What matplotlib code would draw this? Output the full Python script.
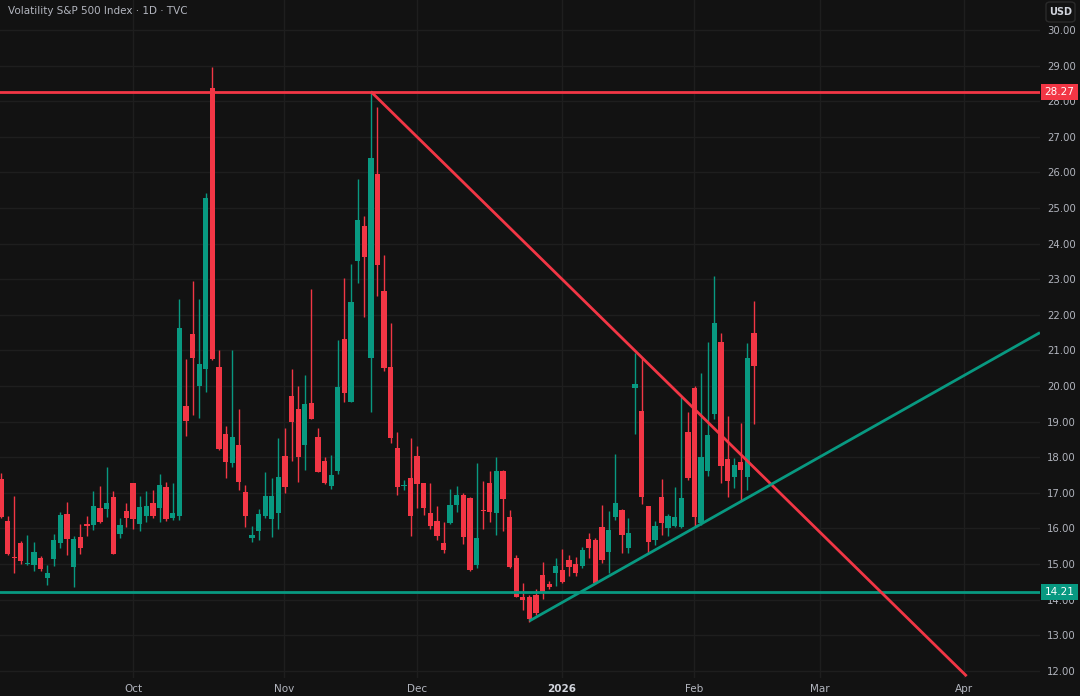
import matplotlib
matplotlib.use("Agg")
import matplotlib.pyplot as plt
from matplotlib.patches import FancyBboxPatch, Rectangle
import numpy as np

# daily candles, VIX
opens = [17.40, 16.22, 15.22, 15.58, 15.02, 14.97, 15.18, 14.62, 15.13, 15.60,
         16.40, 14.91, 15.75, 16.13, 16.10, 16.56, 16.54, 16.88, 15.83, 16.49,
         17.28, 16.12, 16.36, 16.72, 16.58, 17.17, 16.30, 16.36, 19.44, 21.45,
         20.01, 20.48, 28.38, 20.53, 18.65, 17.83, 18.34, 17.01, 15.72, 15.94,
         16.35, 16.26, 16.42, 18.04, 19.72, 19.35, 18.34, 19.51, 18.56, 17.89,
         17.20, 17.61, 21.32, 19.56, 23.51, 24.50, 20.78, 25.95, 22.68, 20.54,
         18.25, 17.20, 17.41, 18.04, 17.28, 16.42, 16.22, 15.58, 16.14, 16.66,
         16.94, 16.84, 14.97, 16.54, 17.28, 16.44, 17.61, 16.31, 15.16, 14.08,
         14.08, 14.13, 14.69, 14.43, 14.76, 14.83, 15.11, 14.99, 14.94, 15.69,
         15.67, 16.05, 15.35, 16.33, 16.52, 15.44, 19.94, 19.30, 16.64, 15.67,
         16.89, 16.02, 16.08, 16.03, 18.72, 19.94, 16.14, 17.61, 19.21, 21.23,
         17.95, 17.45, 17.86, 17.43, 21.48]
highs = [17.55, 16.35, 16.91, 15.65, 15.81, 15.63, 15.23, 14.97, 15.83, 16.45,
         16.74, 15.79, 16.12, 16.34, 17.05, 17.19, 17.73, 17.04, 16.28, 16.70,
         17.28, 16.91, 17.06, 17.08, 17.53, 17.30, 17.27, 22.43, 20.76, 22.95,
         22.43, 25.43, 28.97, 21.01, 18.88, 21.01, 19.35, 17.22, 16.07, 16.54,
         17.58, 17.41, 18.53, 18.83, 20.47, 20.00, 20.31, 22.72, 18.81, 18.00,
         18.07, 21.29, 23.02, 23.43, 25.81, 24.78, 28.27, 27.83, 23.68, 21.76,
         18.72, 17.35, 18.53, 18.32, 17.28, 17.28, 16.64, 16.18, 17.10, 17.19,
         17.00, 16.87, 17.85, 17.34, 17.61, 18.00, 17.65, 16.52, 15.25, 14.46,
         14.13, 14.29, 15.07, 14.52, 15.18, 15.41, 15.25, 15.20, 15.48, 15.86,
         15.72, 16.66, 16.50, 18.09, 16.55, 16.28, 20.94, 20.78, 16.64, 16.20,
         17.39, 16.40, 17.17, 19.70, 19.28, 20.00, 20.36, 21.24, 23.09, 21.48,
         19.17, 17.97, 18.95, 21.20, 22.39]
lows = [16.30, 15.25, 14.76, 15.00, 14.97, 14.81, 14.81, 14.41, 14.93, 15.44,
        15.26, 14.34, 15.29, 15.78, 15.96, 16.15, 16.33, 15.28, 15.74, 16.03,
        15.99, 15.93, 16.19, 16.30, 16.19, 16.20, 16.25, 16.24, 18.60, 19.19,
        19.09, 19.84, 20.73, 18.20, 17.41, 17.73, 17.08, 16.05, 15.63, 15.68,
        16.28, 15.76, 15.98, 17.00, 17.90, 17.31, 17.64, 19.07, 17.59, 17.26,
        17.10, 17.52, 19.56, 19.55, 22.90, 21.93, 19.28, 22.53, 20.41, 18.39,
        16.94, 17.07, 15.79, 16.58, 16.38, 15.97, 15.68, 15.30, 16.11, 16.47,
        15.56, 14.81, 14.88, 15.98, 16.19, 15.81, 15.93, 14.90, 14.06, 13.71,
        13.38, 13.57, 14.01, 14.30, 14.39, 14.47, 14.66, 14.65, 14.88, 15.16,
        14.46, 15.02, 14.74, 16.24, 15.30, 15.30, 18.65, 16.68, 15.30, 15.53,
        15.81, 15.78, 16.05, 16.00, 17.36, 16.05, 16.10, 17.47, 19.06, 17.28,
        16.89, 17.13, 16.78, 17.08, 18.92]
closes = [16.33, 15.28, 15.19, 15.09, 15.04, 15.33, 14.86, 14.74, 15.67, 16.37,
          15.70, 15.69, 15.45, 16.08, 16.62, 16.17, 16.71, 15.28, 16.10, 16.28,
          16.27, 16.61, 16.63, 16.36, 17.23, 16.26, 16.44, 21.64, 19.02, 20.80,
          20.62, 25.29, 20.76, 18.23, 17.87, 18.58, 17.30, 16.36, 15.81, 16.40,
          16.91, 16.91, 17.43, 17.15, 18.98, 18.00, 19.49, 19.07, 17.59, 17.28,
          17.50, 19.98, 19.79, 22.37, 24.66, 23.63, 26.40, 23.40, 20.50, 18.53,
          17.17, 17.22, 16.35, 17.24, 16.58, 16.08, 15.79, 15.39, 16.66, 16.94,
          15.75, 14.83, 15.72, 16.50, 16.45, 17.62, 16.83, 14.91, 14.08, 13.98,
          13.45, 13.62, 14.19, 14.34, 14.93, 14.50, 14.91, 14.74, 15.39, 15.46,
          14.48, 15.11, 15.96, 16.72, 15.81, 15.86, 20.06, 16.87, 15.63, 16.08,
          16.14, 16.36, 16.33, 16.86, 17.41, 16.33, 18.00, 18.62, 21.78, 17.76,
          17.34, 17.78, 17.63, 20.80, 20.56]

# month labels at bar positions
month_pos = [20.0, 42.9, 63.0, 84.9, 104.9, 124.0, 145.8]
month_labels = ["Oct", "Nov", "Dec", "2026", "Feb", "Mar", "Apr"]

# drawn levels / trendlines
resistance = 28.27
support = 14.21
down_line = ([56, 146.2], [28.27, 11.85])
up_line = ([80, 157.3], [13.40, 21.50])

BG = "#121212"
GRID = "#1e1e1e"
GREEN = "#089981"
RED = "#f23645"
TXT = "#b2b5be"

W, H = 1080, 696
fig = plt.figure(figsize=(W / 100, H / 100), dpi=100, facecolor=BG)
ax = fig.add_axes([0, (H - 678) / H, 1040 / W, 678 / H], facecolor=BG)

spacing = 6.605
ax.set_xlim(-1 / spacing, 1039 / spacing)
ax.set_ylim(30 - 648 / 35.6, 30 + 30 / 35.6)

o = np.array(opens)
c = np.array(closes)
x = np.arange(len(o))
up = c >= o
cols = np.where(up, GREEN, RED)

ax.vlines(x, lows, highs, colors=cols, linewidth=1, zorder=2)
body = np.where(np.abs(c - o) < 0.04, 0.04, c - o)
bot = np.where(np.abs(c - o) < 0.04, np.minimum(o, c) - 0.02, o)
ax.bar(x, body, bottom=bot, width=0.8, color=cols, linewidth=0, zorder=3)

# grid
for v in range(12, 31):
    ax.axhline(v, color=GRID, linewidth=1, zorder=0)
for p in month_pos:
    ax.axvline(p, color=GRID, linewidth=1, zorder=0)

# levels and trendlines
ax.axhline(resistance, color=RED, linewidth=2, zorder=4)
ax.axhline(support, color=GREEN, linewidth=2, zorder=4)
ax.plot(*down_line, color=RED, linewidth=2, zorder=4, solid_capstyle="butt")
ax.plot(*up_line, color=GREEN, linewidth=2, zorder=4, solid_capstyle="butt")

for s in ax.spines.values():
    s.set_visible(False)
ax.set_xticks(month_pos)
ax.set_xticklabels(month_labels)
ax.tick_params(axis="x", length=0, pad=4, colors=TXT, labelsize=7.5)
for lab in ax.get_xticklabels():
    if lab.get_text() == "2026":
        lab.set_fontweight("bold")
        lab.set_color("#d1d4dc")
ax.yaxis.tick_right()
ax.set_yticks(range(12, 31))
ax.set_yticklabels([f"{v:.2f}" for v in range(12, 31)])
ax.tick_params(axis="y", length=0, pad=5, colors=TXT, labelsize=7.3)

# price tags on the right axis
def ypix(v):
    return 30 + (30 - v) * 35.6

for v, col in [(resistance, RED), (support, GREEN)]:
    yp = ypix(v)
    fig.patches.append(Rectangle((1041 / W, 1 - (yp + 8) / H), 37 / W, 16 / H,
                                 transform=fig.transFigure, facecolor=col,
                                 edgecolor="none", zorder=10))
    fig.text(1059.5 / W, 1 - yp / H, f"{v:.2f}", color="white", fontsize=7.5,
             ha="center", va="center", zorder=11)

fig.text(8 / W, 1 - 11 / H, "Volatility S&P 500 Index \u00b7 1D \u00b7 TVC",
         color=TXT, fontsize=7.5, ha="left", va="center")
fig.patches.append(FancyBboxPatch((1046 / W, 1 - 22 / H), 29 / W, 20 / H,
                                  boxstyle="round,pad=0,rounding_size=0.004",
                                  transform=fig.transFigure, facecolor=BG,
                                  edgecolor="#2a2a2a", linewidth=1))
fig.text(1060.5 / W, 1 - 12 / H, "USD", color="#d1d4dc", fontsize=7,
         ha="center", va="center", fontweight="bold")

fig.savefig("out.png", dpi=100, facecolor=BG)
